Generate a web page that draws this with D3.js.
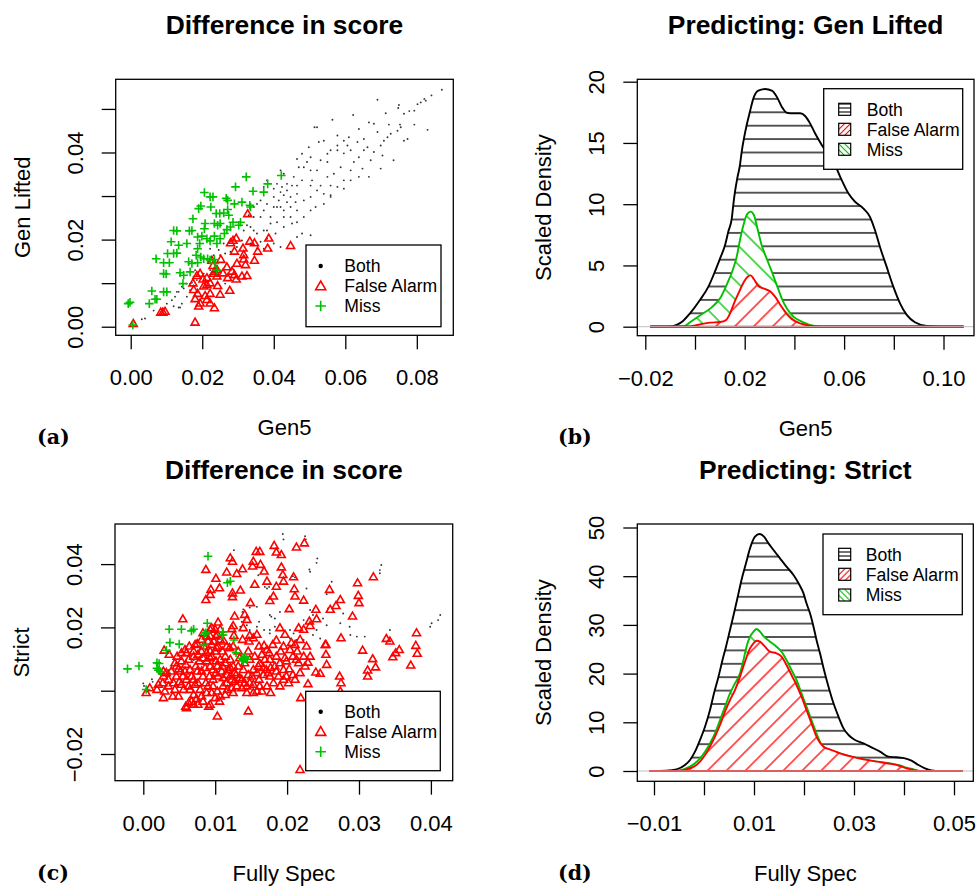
<!DOCTYPE html>
<html><head><meta charset="utf-8">
<script src="https://cdn.jsdelivr.net/npm/d3@7"></script>
<style>body{margin:0;background:#fff}svg{display:block}</style>
</head><body>
<svg id="chart" width="976" height="886"></svg>
<script>
// ---------------- DATA ----------------
const legendLabels = ["Both","False Alarm","Miss"];
const titles = ["Difference in score","Predicting: Gen Lifted","Difference in score","Predicting: Strict"];
const xTitles = ["Gen5","Gen5","Fully Spec","Fully Spec"];
const yTitles = ["Gen Lifted","Scaled Density","Strict","Scaled Density"];
const subLabels = ["(a)","(b)","(c)","(d)"];

const aXTicks = [0,0.02,0.04,0.06,0.08], aXLabels = ["0.00","0.02","0.04","0.06","0.08"];
const aYTicks = [0,0.01,0.02,0.03,0.04,0.05], aYLabels = ["0.00","","0.02","","0.04",""];
const bXTicks = [-0.02,0,0.02,0.04,0.06,0.08,0.10], bXLabels = ["\u22120.02","","0.02","","0.06","","0.10"];
const bYTicks = [0,5,10,15,20], bYLabels = ["0","5","10","15","20"];
const cXTicks = [0,0.01,0.02,0.03,0.04], cXLabels = ["0.00","0.01","0.02","0.03","0.04"];
const cYTicks = [-0.02,0,0.02,0.04], cYLabels = ["\u22120.02","","0.02","0.04"];
const dXTicks = [-0.01,0,0.01,0.02,0.03,0.04,0.05], dXLabels = ["\u22120.01","","0.01","","0.03","","0.05"];
const dYTicks = [0,10,20,30,40,50], dYLabels = ["0","10","20","30","40","50"];

// panel (a) scatter: [Gen5, Gen Lifted]
const aBoth = [[.0031,.0017],[.0040,.0019],[.0064,.0037],[.0120,.0047],[.0138,.0044],[.0171,.0101],[.0129,.0080],[.0143,.0092],[.0157,.0099],[.0870,.0544],[.0841,.0531],[.0821,.0523],[.0802,.0511],[.0779,.0495],[.0750,.0509],[.0748,.0502],[.0713,.0490],[.0690,.0521],[.0622,.0486],[.0564,.0475],[.0514,.0458],[.0638,.0454],[.0666,.0469],[.0680,.0466],[.0690,.0447],[.0722,.0464],[.0753,.0464],[.0793,.0464],[.0830,.0452],[.0764,.0427],[.0774,.0431],[.0727,.0443],[.0708,.0427],[.0652,.0431],[.0634,.0424],[.0606,.0416],[.0610,.0435],[.0578,.0439],[.0540,.0427],[.0526,.0424],[.0498,.0412],[.0479,.0397],[.0465,.0385],[.0484,.0366],[.0503,.0359],[.0521,.0359],[.0550,.0378],[.0578,.0405],[.0596,.0398],[.0615,.0405],[.0652,.0405],[.0680,.0401],[.0699,.0416],[.0735,.0382],[.0699,.0363],[.0666,.0344],[.0638,.0344],[.0615,.0336],[.0596,.0317],[.0578,.0321],[.0559,.0302],[.0540,.0305],[.0521,.0313],[.0503,.0324],[.0479,.0336],[.0465,.0305],[.0447,.0298],[.0428,.0302],[.0409,.0328],[.0400,.0317],[.0381,.0336],[.0372,.0321],[.0363,.0290],[.0353,.0282],[.0344,.0275],[.0372,.0267],[.0400,.0275],[.0419,.0275],[.0437,.0286],[.0447,.0275],[.0465,.0267],[.0484,.0252],[.0503,.0267],[.0517,.0275],[.0540,.0282],[.0559,.0298],[.0596,.0336],[.0428,.0252],[.0409,.0240],[.0391,.0237],[.0372,.0221],[.0353,.0214],[.0344,.0221],[.0335,.0229],[.0428,.0229],[.0451,.0237],[.0465,.0240],[.0479,.0214],[.0503,.0210],[.0465,.0206],[.0419,.0183],[.0400,.0191],[.0381,.0221],[.0330,.0256],[.0325,.0233],[.0316,.0221],[.0311,.0198],[.0297,.0183],[.0279,.0172],[.0264,.0168],[.0250,.0164],[.0246,.0176],[.0260,.0191],[.0222,.0179],[.0232,.0164],[.0222,.0130],[.0204,.0122],[.0185,.0107],[.0166,.0099],[.0148,.0088],[.0134,.0080],[.0124,.0069],[.0115,.0061],[.0101,.0053],[.0180,.0130],[.0166,.0084],[.0157,.0069],[.0143,.0053],[.0134,.0044],[.0176,.0115],[.0250,.0111],[.0264,.0099],[.0279,.0130],[.0241,.0099],[.0194,.0061],[.0222,.0118],[.0521,.0458],[.0550,.0397],[.0503,.0389],[.0470,.0366],[.0456,.0344],[.0437,.0328],[.0428,.0351],[.0419,.0359],[.0587,.0366],[.0550,.0344],[.0507,.0336],[.0568,.0351],[.0624,.0378],[.0638,.0389],[.0662,.0412],[.0596,.0427],[.0578,.0416],[.0559,.0405],[.0531,.0382],[.0493,.0378],[.0465,.0324],[.0451,.0324],[.0419,.0309],[.0400,.0298],[.0381,.0282],[.0363,.0252],[.0344,.0252],[.0391,.0252],[.0428,.0267],[.0447,.0252],[.0405,.0214],[.0381,.0202],[.0363,.0195],[.0335,.0191],[.0353,.0179],[.0372,.0179],[.0414,.0290],[.0409,.0275],[.0423,.0321],[.0437,.0313],[.0461,.0286],[.0484,.0290],[.0503,.0298],[.0531,.0324],[.0559,.0324],[.0615,.0359],[.0648,.0363],[.0671,.0382],[.0704,.0393],[.0718,.0435],[.0746,.0450],[.0764,.0489],[.0793,.0496],[.0811,.0515],[.0825,.0519],[.0755,.0458]];
const aFA = [[.0007,.0006],[.0084,.0032],[.0090,.0032],[.0096,.0034],[.0180,.0009],[.0174,.0099],[.0176,.0084],[.0180,.0063],[.0190,.0046],[.0194,.0053],[.0208,.0070],[.0213,.0061],[.0222,.0075],[.0234,.0042],[.0204,.0092],[.0202,.0108],[.0213,.0111],[.0222,.0099],[.0232,.0121],[.0241,.0115],[.0243,.0093],[.0250,.0073],[.0277,.0082],[.0241,.0130],[.0227,.0151],[.0252,.0153],[.0269,.0136],[.0271,.0111],[.0283,.0126],[.0290,.0118],[.0295,.0108],[.0311,.0115],[.0325,.0116],[.0297,.0144],[.0316,.0154],[.0321,.0141],[.0346,.0151],[.0290,.0172],[.0314,.0179],[.0355,.0172],[.0383,.0179],[.0279,.0191],[.0286,.0197],[.0295,.0202],[.0333,.0195],[.0346,.0191],[.0386,.0202],[.0327,.0258],[.0447,.0185],[.0316,.0164],[.0230,.0139],[.0258,.0122],[.0185,.0116],[.0194,.0121],[.0213,.0095],[.0234,.0126],[.0222,.0053],[.0187,.0075]];
const aMiss = [[-.0007,.0053],[-.0002,.0056],[.0006,.0004],[.0052,.0053],[.0059,.0082],[.0068,.0063],[.0073,.0063],[.0092,.0080],[.0101,.0080],[.0092,.0122],[.0099,.0121],[.0071,.0156],[.0092,.0147],[.0108,.0147],[.0103,.0168],[.0120,.0168],[.0129,.0169],[.0113,.0195],[.0134,.0187],[.0157,.0191],[.0138,.0124],[.0148,.0118],[.0146,.0099],[.0166,.0126],[.0171,.0145],[.0162,.0149],[.0187,.0147],[.0183,.0164],[.0196,.0160],[.0204,.0156],[.0215,.0156],[.0222,.0153],[.0234,.0154],[.0236,.0145],[.0241,.0130],[.0187,.0179],[.0193,.0191],[.0187,.0206],[.0199,.0208],[.0213,.0202],[.0222,.0197],[.0234,.0208],[.0241,.0191],[.0250,.0202],[.0262,.0214],[.0269,.0223],[.0279,.0229],[.0286,.0240],[.0274,.0256],[.0271,.0269],[.0260,.0261],[.0239,.0260],[.0249,.0260],[.0243,.0233],[.0234,.0237],[.0250,.0237],[.0208,.0237],[.0206,.0225],[.0171,.0221],[.0164,.0220],[.0120,.0221],[.0129,.0220],[.0174,.0248],[.0190,.0271],[.0196,.0277],[.0224,.0275],[.0222,.0298],[.0206,.0308],[.0230,.0298],[.0267,.0295],[.0271,.0290],[.0290,.0282],[.0311,.0286],[.0333,.0279],[.0335,.0275],[.0293,.0321],[.0323,.0344],[.0342,.0311],[.0372,.0309],[.0383,.0328],[.0421,.0347],[.0307,.0240],[.0302,.0233]];

// panel (b) densities: [Gen5, scaled density]
const bBoth = [[-.018,0],[-.0101,0],[-.0074,.14],[-.0047,.49],[-.0020,1.09],[.0020,2.18],[.0054,3.27],[.0080,4.49],[.0101,5.58],[.0121,6.67],[.0134,7.76],[.0148,8.84],[.0154,9.93],[.0161,11.02],[.0170,12.11],[.0181,13.2],[.0188,14.29],[.0197,15.37],[.0208,16.46],[.0221,17.55],[.0235,18.64],[.0255,19.27],[.0282,19.4],[.0309,19.27],[.0329,18.78],[.0349,17.96],[.0369,17.47],[.0396,17.42],[.0423,17.42],[.0443,17.2],[.0463,16.6],[.0483,15.79],[.0510,14.84],[.0537,14.02],[.0563,13.2],[.0590,11.98],[.0617,10.89],[.0644,10.2],[.0677,9.66],[.0704,8.97],[.0724,7.89],[.0744,6.53],[.0771,4.9],[.0798,3.27],[.0825,1.91],[.0852,.96],[.0885,.36],[.0932,.06],[.0986,0],[.108,0]];
const bMiss = [[-.018,0],[-.0047,0],[-.0020,.36],[.0027,1.01],[.0067,1.58],[.0101,2.32],[.0130,3.54],[.0152,4.63],[.0168,5.72],[.0181,7.08],[.0195,8.3],[.0208,9.12],[.0224,9.39],[.0237,9.12],[.0251,8.03],[.0268,6.67],[.0288,5.58],[.0309,4.49],[.0329,3.4],[.0349,2.32],[.0369,1.5],[.0396,.82],[.0436,.36],[.0476,.08],[.0517,0],[.108,0]];
const bFA = [[-.018,0],[-.0020,.03],[.0020,.19],[.0060,.33],[.0101,.38],[.0125,.54],[.0138,.95],[.0157,1.91],[.0178,2.86],[.0197,3.67],[.0212,4.08],[.0224,4.19],[.0237,3.87],[.0255,3.32],[.0278,3.1],[.0302,2.89],[.0322,2.45],[.0342,1.82],[.0365,1.14],[.0389,.63],[.0423,.27],[.0463,.08],[.0503,0],[.108,0]];

// panel (c) scatter: [Fully Spec, Strict]
const cBoth = [[.0194,.0495],[.0195,.0478],[.0225,.0488],[.0226,.0478],[.0242,.0418],[.0241,.0404],[.0231,.0383],[.0232,.0376],[.0331,.0397],[.0329,.0381],[.0329,.0371],[.0262,.0344],[.0255,.0305],[.0287,.0202],[.0288,.0176],[.0297,.0171],[.0308,.0171],[.0343,.0192],[.0413,.0239],[.0410,.0223],[.0401,.0213],[.0399,.0202],[.0227,.0323],[.0211,.0358],[.0208,.0362],[.0172,.0323],[.0175,.0328],[.0158,.0265],[.0148,.0263],[.0139,.0257],[.0138,.0249],[.0141,.0223],[.0137,.0218],[.0144,.0207],[.0176,.0239],[.0178,.0234],[.0183,.0228],[.0190,.0249],[.0183,.0202],[.0176,.0192],[.0168,.0192],[.0161,.0218],[.0158,.0202],[.0148,.0192],[.0135,.0202],[.0134,.0192],[.0204,.0192],[.0209,.0181],[.0213,.0160],[.0223,.0223],[.0236,.0239],[.0250,.0228],[.0255,.0207],[.0241,.0192],[.0236,.0176],[.0246,.0165],[.0204,.0165],[.0176,.0181],[.0074,.0107],[.0076,.0123],[.0070,.0097],[.0081,.0107],[.0037,.0055],[.0035,.0065],[.0012,.0036],[.0013,.0028],[.0000,.0023],[.0001,.0015],[.0126,.0444],[.0160,.0365],[.0169,.0328],[.0223,.0160],[.0232,.0255],[.0257,.0260],[.0278,.0244],[.0274,.0213]];
const cFA = [[.0087,.0381],[.0101,.0353],[.0094,.0318],[.0093,.0302],[.0087,.0286],[.0106,.0323],[.0116,.0373],[.0121,.0418],[.0124,.0407],[.0130,.0368],[.0138,.0383],[.0124,.0307],[.0124,.0295],[.0135,.0316],[.0149,.0276],[.0157,.0438],[.0162,.0438],[.0153,.0407],[.0152,.0392],[.0163,.0397],[.0168,.0376],[.0155,.0334],[.0172,.0344],[.0182,.0457],[.0185,.0436],[.0192,.0428],[.0192,.0389],[.0194,.0365],[.0185,.0328],[.0176,.0283],[.0181,.0297],[.0195,.0344],[.0209,.0358],[.0210,.0320],[.0211,.0297],[.0224,.0465],[.0213,.0452],[.0223,.0284],[.0203,.0257],[.0259,.0318],[.0274,.0286],[.0260,.0255],[.0268,.0267],[.0298,.0339],[.0320,.0358],[.0299,.0299],[.0300,.0276],[.0291,.0234],[.0275,.0165],[.0254,.0144],[.0240,.0255],[.0241,.0225],[.0231,.0218],[.0232,.0204],
[.0055,.0225],[.0029,.0126],[.0036,.0113],[.0044,.0086],[.0049,.0067],[.0028,.0044],[.0027,.0023],[.0004,-.0008],[.0009,.0007],[.0028,-.0024],[.0030,-.0003],[.0041,-.0019],[.0059,-.0051],[.0063,-.0040],[.0067,-.0035],[.0070,-.0014],[.0079,.0002],[.0076,.0023],[.0067,.0044],[.0065,.0065],[.0059,.0081],[.0053,.0092],[.0060,.0118],[.0064,.0139],[.0075,.0147],[.0084,.0139],[.0088,.0118],[.0083,.0102],[.0088,.0092],[.0093,.0076],[.0097,.0065],[.0101,.0055],[.0092,.0044],[.0087,.0023],[.0097,.0013],[.0103,-.0003],[.0107,-.0019],[.0106,-.0035],[.0093,-.0045],[.0095,-.0008],[.0103,-.0082],[.0146,-.0066],[.0144,.0013],[.0144,-.0008],[.0153,.0018],[.0161,.0034],[.0158,.0055],[.0146,.0049],[.0139,.0065],[.0137,.0034],[.0129,.0049],[.0121,.0044],[.0116,.0023],[.0111,.0039],[.0118,.0065],[.0110,.0076],[.0107,.0097],[.0114,.0107],[.0110,.0123],[.0102,.0134],[.0098,.0155],[.0101,.0171],[.0107,.0192],[.0104,.0215],[.0095,.0197],[.0093,.0171],[.0090,.0155],[.0081,.0123],[.0070,.0123],[.0073,.0076],[.0081,.0060],[.0083,.0044],[.0078,.0092],[.0120,.0134],[.0125,.0139],[.0126,.0173],[.0125,.0204],[.0127,.0234],[.0123,.0194],[.0139,.0197],[.0144,.0223],[.0141,.0239],[.0148,.0173],[.0147,.0155],[.0153,.0165],[.0158,.0176],[.0161,.0139],[.0168,.0141],[.0172,.0128],[.0180,.0144],[.0185,.0158],[.0190,.0197],[.0197,.0176],[.0195,.0139],[.0191,.0123],[.0185,.0107],[.0176,.0097],[.0169,.0097],[.0162,.0084],[.0171,.0065],[.0177,.0071],[.0185,.0060],[.0195,.0065],[.0203,.0067],[.0199,.0092],[.0208,.0107],[.0214,.0123],[.0211,.0144],[.0218,.0160],[.0223,.0192],[.0216,.0197],[.0227,.0139],[.0232,.0107],[.0229,.0088],[.0216,.0086],[.0218,.0055],[.0208,.0049],[.0195,.0034],[.0202,.0023],[.0188,.0044],[.0176,.0044],[.0167,.0049],[.0181,.0023],[.0177,-.0008],[.0162,.0013],[.0158,-.0003],[.0148,.0023],[.0141,.0086],[.0134,.0102],[.0132,.0076],[.0125,.0076],[.0148,.0097],[.0155,.0107],[.0165,.0113],[.0175,.0118],[.0240,.0057],[.0229,.0020],[.0254,.0113],[.0255,.0081],[.0253,.0144],[.0246,.0053],[.0273,.0044],[.0275,.0023],[.0274,-.0003],[.0254,-.0022],[.0273,-.0029],[.0219,-.0024],[.0305,.0126],[.0319,.0099],[.0323,.0073],[.0312,.0063],[.0312,.0044],[.0338,.0163],[.0343,.0155],[.0351,.0118],[.0347,.0105],[.0356,.0128],[.0372,.0079],[.0380,.0181],[.0379,.0141],[.0381,.0116],[.0063,.0097],[.0047,.0107],[.0053,.0118],[.0058,.0128],[.0072,.0144],[.0081,.0160],[.0093,.0192],[.0058,.0060],[.0046,.0044],[.0042,.0023],[.0035,.0034],[.0039,.0060],[.0050,.0026],[.0055,.0044],[.0072,.0018],[.0065,.0002],[.0074,-.0027],[.0081,-.0019],[.0088,-.0008],[.0019,.0002],[.0021,.0018],[.0028,.0060],[.0044,.0002],[.0146,.0123],[.0138,.0160],[.0132,.0123],[.0121,.0097],[.0104,.0044],[.0111,.0013],[.0123,.0007],[.0127,.0028],[.0117,.0002],
[.0218,-.0251],[.0060,-.0056],[.0091,-.0051],
[.0070,.0034],[.0075,.0060],[.0086,.0071],[.0095,.0107],[.0100,.0123],[.0104,.0139],[.0107,.0160],[.0103,.0176],[.0100,.0192],[.0112,.0155],[.0116,.0139],[.0114,.0086],[.0121,.0071],[.0127,.0055],[.0134,.0039],[.0141,.0023],[.0151,.0044],[.0153,.0065],[.0160,.0076],[.0167,.0071],[.0174,.0055],[.0183,.0076],[.0190,.0086],[.0197,.0102],[.0204,.0128],[.0206,.0150],[.0213,.0097],[.0223,.0107],[.0225,.0076],[.0211,.0034],[.0199,.0044],[.0190,.0013],[.0172,.0013],[.0165,-.0003],[.0153,-.0008],[.0137,.0007],[.0130,.0013],[.0125,-.0008],[.0114,-.0014],[.0100,-.0024],[.0083,-.0035],[.0076,-.0045],[.0070,-.0045],[.0053,.0018],[.0060,.0034],[.0063,.0013],[.0056,.0002],[.0049,-.0019],[.0035,.0013],[.0032,.0055],[.0046,.0076],[.0052,.0060],[.0070,.0107],[.0076,.0113],[.0093,.0123],[.0095,.0144],[.0083,.0181],[.0088,.0171],[.0101,.0092],[.0103,.0076],[.0097,.0034],[.0090,.0013],[.0109,.0060],[.0116,.0049],[.0123,.0034],[.0093,.0102]];
const cMiss = [[.0090,.0425],[.0117,.0341],[.0121,.0346],[.0036,.0194],[.0053,.0194],[.0067,.0189],[.0070,.0194],[.0089,.0213],[.0087,.0183],[.0085,.0179],[.0111,.0186],[.0111,.0176],[.0109,.0176],[.0084,.0144],[.0126,.0160],[.0129,.0120],[.0137,.0102],[.0139,.0099],[.0141,.0102],[.0139,.0095],[.0141,.0107],[.0144,.0099],[.0037,.0152],[.0050,.0147],[.0032,.0128],[.0019,.0088],[.0022,.0086],[.0021,.0065],[.0024,.0060],[.0019,.0071],[-.0006,.0078],[-.0022,.0069],[.0004,.0004]];

// panel (d) densities: [Fully Spec, scaled density]
const dBoth = [[-.0109,0],[-.0075,.07],[-.0055,.34],[-.0038,1.23],[-.0028,2.26],[-.0018,3.97],[-.0008,6.37],[.0002,9.1],[.0012,12.53],[.0020,15.95],[.0029,19.37],[.0037,22.79],[.0044,25.53],[.0052,28.95],[.0060,32.38],[.0069,36.48],[.0075,39.22],[.0084,42.64],[.0092,45.72],[.0102,48.12],[.0111,48.67],[.0120,48.12],[.0129,46.75],[.0139,45.38],[.0152,43.67],[.0165,41.96],[.0179,40.25],[.0191,38.19],[.0199,36.48],[.0205,34.43],[.0212,32.38],[.0219,29.64],[.0225,26.9],[.0232,24.16],[.0240,20.74],[.0249,17.32],[.0259,13.9],[.0269,11.16],[.0279,8.76],[.0289,7.39],[.0302,6.37],[.0319,5.68],[.0335,4.86],[.0352,3.97],[.0369,2.94],[.0385,2.81],[.0402,2.6],[.0415,2.12],[.0429,1.23],[.0442,.55],[.0455,.14],[.0472,0],[.0517,0]];
const dMiss = [[-.0109,0],[-.0061,0],[-.0041,.34],[-.0028,.89],[-.0018,1.57],[-.0008,2.6],[.0002,3.97],[.0012,5.68],[.0022,7.73],[.0032,10.47],[.0042,13.21],[.0052,15.95],[.0062,18.0],[.0072,20.06],[.0079,22.79],[.0085,25.53],[.0092,27.58],[.0099,28.61],[.0105,29.16],[.0112,28.61],[.0120,27.58],[.0132,26.56],[.0145,25.53],[.0155,24.5],[.0165,22.79],[.0175,20.74],[.0185,18.69],[.0195,15.95],[.0205,13.21],[.0215,10.47],[.0225,7.73],[.0237,5.13],[.0252,4.31],[.0272,3.63],[.0295,2.94],[.0319,2.4],[.0345,1.92],[.0372,1.57],[.0392,1.16],[.0405,.68],[.0419,.34],[.0432,0],[.0517,0]];
const dFA = [[-.0109,0],[-.0055,0],[-.0035,.34],[-.0018,1.03],[-.0008,1.92],[.0002,3.29],[.0012,5.0],[.0022,7.05],[.0032,9.45],[.0042,12.18],[.0052,14.58],[.0062,16.63],[.0072,19.37],[.0082,22.45],[.0092,25.19],[.0099,26.22],[.0105,26.76],[.0112,26.56],[.0122,25.53],[.0132,24.5],[.0145,24.16],[.0155,23.48],[.0165,21.77],[.0175,19.71],[.0185,17.66],[.0195,15.26],[.0205,12.53],[.0215,9.79],[.0225,7.05],[.0239,5.0],[.0255,4.31],[.0272,3.63],[.0295,2.94],[.0319,2.4],[.0345,1.92],[.0372,1.5],[.0392,1.03],[.0405,.55],[.0419,.21],[.0432,0],[.0517,0]];

// ---------------- DRAWING ----------------
const FONT = "'Liberation Sans', Arial, Helvetica, sans-serif";
const RED = "#ff0000", GREEN = "#00c000", GRAY = "#bebebe";
const svg = d3.select("#chart");
const defs = svg.append("defs");

function hatch(id, color, angle, spacing, width, offY) {
  const p = defs.append("pattern").attr("id", id).attr("patternUnits", "userSpaceOnUse")
    .attr("x", 0).attr("y", offY - spacing / 2).attr("width", 60).attr("height", spacing);
  if (angle) p.attr("patternTransform", `rotate(${angle})`);
  p.append("rect").attr("x", 0).attr("y", spacing / 2 - width / 2).attr("width", 60).attr("height", width).attr("fill", color);
}

function tri(cx, cy, r) {
  return `M${cx},${cy - r}L${cx + 0.866 * r},${cy + r / 2}L${cx - 0.866 * r},${cy + r / 2}Z`;
}
function plus(cx, cy, h) {
  return `M${cx - h},${cy}H${cx + h}M${cx},${cy - h}V${cy + h}`;
}

function panel(cfg) {
  const x = d3.scaleLinear().domain(cfg.xd).range([cfg.x0, cfg.x1]);
  const y = d3.scaleLinear().domain(cfg.yd).range([cfg.y1, cfg.y0]);
  const g = svg.append("g");
  const plot = g.append("g");

  const gx = g.append("g").attr("transform", `translate(0,${cfg.y1})`)
    .call(d3.axisBottom(x).tickValues(cfg.xt).tickFormat((d, i) => cfg.xl[i]).tickSize(14).tickSizeOuter(0));
  gx.select(".domain").remove();
  gx.attr("font-size", 22).attr("font-family", FONT);
  gx.selectAll("line").attr("stroke", "#000").attr("stroke-width", 1.3);
  gx.selectAll("text").attr("y", 50).attr("dy", 0).attr("fill", "#000");

  const gy = g.append("g").attr("transform", `translate(${cfg.x0},0)`)
    .call(d3.axisLeft(y).tickValues(cfg.yt).tickFormat((d, i) => cfg.yl[i]).tickSize(14).tickSizeOuter(0));
  gy.select(".domain").remove();
  gy.attr("font-size", 22).attr("font-family", FONT);
  gy.selectAll("line").attr("stroke", "#000").attr("stroke-width", 1.3);
  gy.selectAll("text").attr("x", 0).attr("y", -33).attr("dy", 0)
    .attr("text-anchor", "middle").attr("transform", "rotate(-90)").attr("fill", "#000");

  g.append("rect").attr("x", cfg.x0).attr("y", cfg.y0)
    .attr("width", cfg.x1 - cfg.x0).attr("height", cfg.y1 - cfg.y0)
    .attr("fill", "none").attr("stroke", "#000").attr("stroke-width", 1.3);

  const cx = (cfg.x0 + cfg.x1) / 2, cy = (cfg.y0 + cfg.y1) / 2;
  g.append("text").attr("x", cx).attr("y", cfg.y0 - 45).attr("text-anchor", "middle")
    .attr("font-family", FONT).attr("font-weight", "bold").attr("font-size", 26.4).text(cfg.title);
  g.append("text").attr("x", cx).attr("y", cfg.y1 + 100).attr("text-anchor", "middle")
    .attr("font-family", FONT).attr("font-size", 22).text(cfg.xtitle);
  g.append("text").attr("transform", `translate(${cfg.x0 - 86},${cy}) rotate(-90)`).attr("text-anchor", "middle")
    .attr("font-family", FONT).attr("font-size", 22).text(cfg.ytitle);
  g.append("text").attr("x", cfg.subX).attr("y", cfg.subY)
    .attr("font-family", "'DejaVu Serif', 'Liberation Serif', serif").attr("font-weight", "bold")
    .attr("font-size", 20.5).text(cfg.sub);
  return { x, y, g, plot };
}

function scatter(p, both, fa, miss) {
  const { x, y, plot } = p;
  plot.append("g").selectAll("circle").data(both).join("circle")
    .attr("cx", d => x(d[0])).attr("cy", d => y(d[1])).attr("r", 0.95).attr("fill", "#333");
  plot.append("g").selectAll("path").data(fa).join("path")
    .attr("d", d => tri(x(d[0]), y(d[1]), 4.6)).attr("fill", "none").attr("stroke", RED).attr("stroke-width", 1.6);
  plot.append("g").selectAll("path").data(miss).join("path")
    .attr("d", d => plus(x(d[0]), y(d[1]), 4.3)).attr("fill", "none").attr("stroke", GREEN).attr("stroke-width", 1.6);
}

function legendPts(g, L) {
  g.append("rect").attr("x", L.x0).attr("y", L.y0).attr("width", L.x1 - L.x0).attr("height", L.y1 - L.y0)
    .attr("fill", "#fff").attr("stroke", "#000").attr("stroke-width", 1.3);
  const rows = legendLabels.map((t, i) => ({ t, i, yy: L.ry[i] }));
  g.append("circle").attr("cx", L.sx).attr("cy", L.ry[0]).attr("r", 2.2).attr("fill", "#000");
  g.append("path").attr("d", tri(L.sx, L.ry[1] + 0.8, 5.8)).attr("fill", "none").attr("stroke", RED).attr("stroke-width", 1.6);
  g.append("path").attr("d", plus(L.sx, L.ry[2], 5.3)).attr("fill", "none").attr("stroke", GREEN).attr("stroke-width", 1.6);
  g.selectAll(null).data(rows).join("text").attr("x", L.tx).attr("y", d => d.yy + 6.2)
    .attr("font-family", FONT).attr("font-size", 17.6).text(d => d.t);
}

function legendFill(g, L, pats) {
  g.append("rect").attr("x", L.x0).attr("y", L.y0).attr("width", L.x1 - L.x0).attr("height", L.y1 - L.y0)
    .attr("fill", "#fff").attr("stroke", "#000").attr("stroke-width", 1.3);
  legendLabels.forEach((t, i) => {
    const yy = L.ry[i];
    g.append("rect").attr("x", L.sx - 6).attr("y", yy - 6).attr("width", 12).attr("height", 12)
      .attr("fill", `url(#${pats[i]})`).attr("stroke", "#000").attr("stroke-width", 1.2);
    g.append("text").attr("x", L.tx).attr("y", yy + 6.2).attr("font-family", FONT).attr("font-size", 17.6).text(t);
  });
}

function densities(p, both, miss, fa, ids) {
  const { x, y, plot } = p;
  const area = d3.area().x(d => x(d[0])).y0(y(0)).y1(d => y(d[1])).curve(d3.curveMonotoneX);
  const line = d3.line().x(d => x(d[0])).y(d => y(d[1])).curve(d3.curveMonotoneX);
  const series = [[both, "#000", ids[0], false], [miss, GREEN, ids[1], true], [fa, RED, ids[2], true]];
  series.forEach(([data, col, pid, white]) => {
    if (white) plot.append("path").attr("d", area(data)).attr("fill", "#fff");
    plot.append("path").attr("d", area(data)).attr("fill", `url(#${pid})`);
    plot.append("path").attr("d", line(data)).attr("fill", "none").attr("stroke", col).attr("stroke-width", 1.9);
    plot.append("line").attr("x1", x(data[0][0])).attr("x2", x(data[data.length - 1][0]))
      .attr("y1", y(0)).attr("y2", y(0)).attr("stroke", col).attr("stroke-width", 1.9);
  });
  plot.append("line").attr("x1", x.range()[0]).attr("x2", x.range()[1]).attr("y1", y(0)).attr("y2", y(0))
    .attr("stroke", GRAY).attr("stroke-width", 1);
}

// panel (a)
const pA = panel({ x0: 115.7, x1: 453.3, y0: 79.3, y1: 335.3, xd: [-0.0042, 0.0902], yd: [-0.00197, 0.0568],
  xt: aXTicks, xl: aXLabels, yt: aYTicks, yl: aYLabels, title: titles[0], xtitle: xTitles[0], ytitle: yTitles[0],
  sub: subLabels[0], subX: 37, subY: 444 });
scatter(pA, aBoth, aFA, aMiss);
legendPts(pA.g, { x0: 306, y0: 245, x1: 441, y1: 326.7, sx: 320.7, tx: 344.3, ry: [266, 286, 306] });

// panel (b)
const pB = panel({ x0: 637.3, x1: 974, y0: 79.3, y1: 335.7, xd: [-0.02322, 0.11227], yd: [-0.735, 20.196],
  xt: bXTicks, xl: bXLabels, yt: bYTicks, yl: bYLabels, title: titles[1], xtitle: xTitles[1], ytitle: yTitles[1],
  sub: subLabels[1], subX: 558, subY: 444 });
{
  const b0 = pB.y(0);
  hatch("bH", "#000", 0, 13.4, 1.3, b0);
  hatch("bM", GREEN, 45, 13.4, 1.3, 0);
  hatch("bF", RED, -45, 13.4, 1.3, 0);
}
densities(pB, bBoth, bMiss, bFA, ["bH", "bM", "bF"]);

// panel (c)
const pC = panel({ x0: 115, x1: 452.7, y0: 524, y1: 780.7, xd: [-0.003936, 0.043032], yd: [-0.028436, 0.05267],
  xt: cXTicks, xl: cXLabels, yt: cYTicks, yl: cYLabels, title: titles[2], xtitle: xTitles[2], ytitle: yTitles[2],
  sub: subLabels[2], subX: 37, subY: 880 });
scatter(pC, cBoth, cFA, cMiss);
legendPts(pC.g, { x0: 305.7, y0: 691.3, x1: 440.3, y1: 770.7, sx: 320.7, tx: 344.3, ry: [711.7, 731.7, 751.7] });

// panel (d)
const pD = panel({ x0: 637.3, x1: 973.3, y0: 524, y1: 781.3, xd: [-0.01334, 0.05386], yd: [-2.115, 50.719],
  xt: dXTicks, xl: dXLabels, yt: dYTicks, yl: dYLabels, title: titles[3], xtitle: xTitles[3], ytitle: yTitles[3],
  sub: subLabels[3], subX: 558, subY: 880 });
{
  const b0 = pD.y(0);
  hatch("dH", "#000", 0, 13.4, 1.3, b0);
  hatch("dM", GREEN, 45, 13.4, 1.3, 0);
  hatch("dF", RED, -45, 13.4, 1.3, 0);
}
densities(pD, dBoth, dMiss, dFA, ["dH", "dM", "dF"]);

// legend hatch patterns (finer)
hatch("lH", "#000", 0, 4, 1.1, 0);
hatch("lM", GREEN, 45, 4.2, 1.1, 0);
hatch("lF", RED, -45, 4.2, 1.1, 0);
legendFill(pB.g, { x0: 823.7, y0: 88.7, x1: 962.7, y1: 169.3, sx: 844.7, tx: 866.7, ry: [109.3, 129.3, 149.3] }, ["lH", "lF", "lM"]);
legendFill(pD.g, { x0: 823, y0: 534, x1: 962.3, y1: 614.7, sx: 844.7, tx: 865.7, ry: [554.3, 574.3, 595] }, ["lH", "lF", "lM"]);
</script>
</body></html>
